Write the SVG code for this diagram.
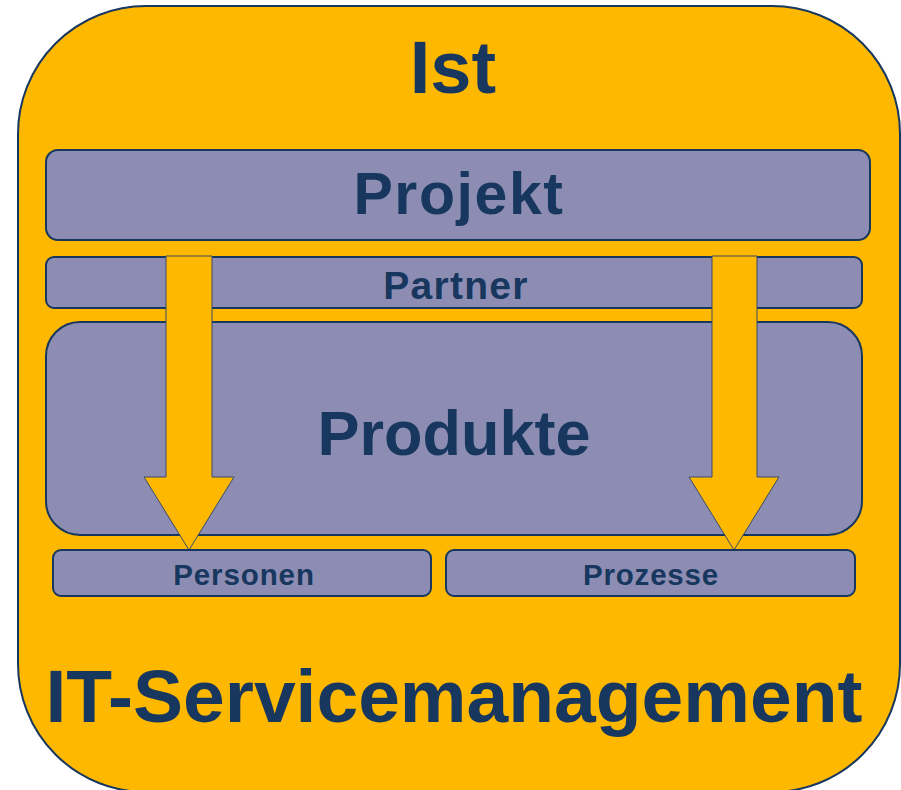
<svg xmlns="http://www.w3.org/2000/svg" width="901" height="790" viewBox="0 0 901 790">
  <defs>
    <style>
      .box { fill: #8D8DB3; stroke: #17375E; stroke-width: 2; }
      .arrow { fill: #FFB800; stroke: #3A4A66; stroke-width: 1; }
      .t { font-family: "Liberation Sans", Arial, sans-serif; font-weight: bold; fill: #17375E; text-anchor: middle; }
    </style>
  </defs>
  <rect width="901" height="790" fill="#FFFFFF"/>
  <g id="frame">
    <rect x="18" y="6" width="882" height="786" rx="128" ry="128" fill="#FFB800" stroke="#17375E" stroke-width="2"/>
    <text class="t" x="453" y="93" font-size="74">Ist</text>
    <text class="t" x="454" y="722" font-size="75">IT-Servicemanagement</text>
  </g>
  <g id="projekt">
    <rect class="box" x="46" y="150" width="824" height="90" rx="12"/>
    <text class="t" x="459" y="214" font-size="59" letter-spacing="1.6">Projekt</text>
  </g>
  <g id="partner">
    <rect class="box" x="46" y="257" width="816" height="51" rx="8"/>
    <text class="t" x="456" y="299" font-size="39" letter-spacing="1.3">Partner</text>
  </g>
  <g id="produkte">
    <rect class="box" x="46" y="322" width="816" height="213" rx="34"/>
    <text class="t" x="454" y="455" font-size="63">Produkte</text>
  </g>
  <g id="connectors">
    <polygon class="arrow" points="166,256 212,256 212,477 234,477 189,550 144,477 166,477"/>
    <polygon class="arrow" points="712,256 757,256 757,477 779,477 734,550 689,477 712,477"/>
  </g>
  <g id="personen">
    <rect class="box" x="53" y="550" width="378" height="46" rx="8"/>
    <text class="t" x="244" y="585" font-size="29.5" letter-spacing="0.9">Personen</text>
  </g>
  <g id="prozesse">
    <rect class="box" x="446" y="550" width="409" height="46" rx="8"/>
    <text class="t" x="651" y="585" font-size="29.5" letter-spacing="0.8">Prozesse</text>
  </g>
</svg>
